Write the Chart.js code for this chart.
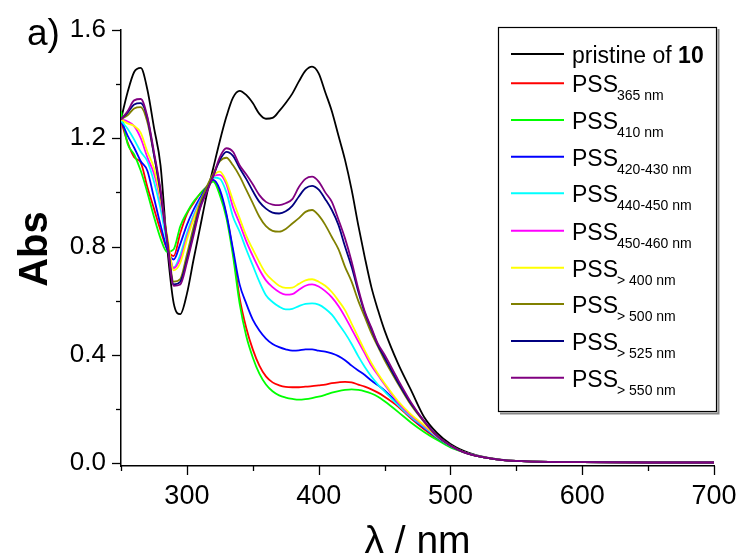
<!DOCTYPE html>
<html><head><meta charset="utf-8">
<script src="https://cdn.jsdelivr.net/npm/chart.js@4/dist/chart.umd.min.js"></script>
<style>html,body{margin:0;padding:0;background:#fff}canvas{display:block}</style>
</head><body><canvas id="c" width="742" height="559"></canvas>
<script>
const wavelengths = [250,255,260,265,270,275,280,285,290,295,300,305,310,315,320,325,330,335,340,345,350,355,360,365,370,375,380,385,390,395,400,405,410,415,420,425,430,435,440,445,450,460,470,480,490,500,510,520,530,540,550,575,600,650,700];

const pristine = [1.27,1.37,1.445,1.46,1.38,1.24,1.10,0.80,0.59,0.55,0.625,0.75,0.87,0.99,1.09,1.19,1.28,1.35,1.375,1.36,1.33,1.29,1.272,1.275,1.30,1.33,1.365,1.41,1.45,1.465,1.44,1.37,1.30,1.21,1.12,1.01,0.88,0.76,0.65,0.565,0.49,0.37,0.27,0.17,0.11,0.07,0.045,0.028,0.018,0.012,0.008,0.004,0.003,0.002,0.002];
const pss365 = [1.265,1.185,1.13,1.11,1.02,0.94,0.86,0.79,0.765,0.85,0.92,0.96,0.995,1.02,1.045,1.0,0.915,0.78,0.61,0.50,0.42,0.36,0.32,0.298,0.287,0.281,0.28,0.28,0.282,0.284,0.287,0.29,0.295,0.298,0.30,0.298,0.29,0.282,0.272,0.26,0.245,0.21,0.165,0.125,0.09,0.06,0.04,0.026,0.017,0.011,0.008,0.004,0.003,0.002,0.002];
const pss410 = [1.30,1.18,1.14,1.08,1.0,0.91,0.83,0.78,0.79,0.875,0.925,0.965,0.995,1.02,1.04,0.99,0.905,0.765,0.59,0.47,0.39,0.33,0.29,0.265,0.25,0.242,0.237,0.234,0.236,0.24,0.245,0.252,0.26,0.266,0.27,0.272,0.27,0.265,0.257,0.245,0.228,0.19,0.15,0.115,0.085,0.058,0.04,0.026,0.017,0.011,0.008,0.004,0.003,0.002,0.002];
const pss420_430 = [1.265,1.21,1.165,1.115,1.08,0.98,0.88,0.79,0.752,0.81,0.88,0.935,0.98,1.02,1.046,1.01,0.92,0.79,0.66,0.59,0.53,0.49,0.46,0.44,0.428,0.42,0.415,0.416,0.42,0.42,0.415,0.412,0.405,0.395,0.38,0.36,0.342,0.325,0.305,0.287,0.268,0.22,0.17,0.13,0.093,0.062,0.04,0.026,0.017,0.011,0.008,0.004,0.003,0.002,0.002];
const pss440_450 = [1.265,1.235,1.195,1.15,1.115,1.04,0.94,0.81,0.722,0.77,0.85,0.915,0.97,1.015,1.055,1.05,1.0,0.91,0.855,0.79,0.73,0.67,0.62,0.595,0.578,0.568,0.57,0.58,0.588,0.59,0.585,0.57,0.548,0.515,0.48,0.44,0.395,0.355,0.32,0.29,0.265,0.215,0.17,0.133,0.095,0.063,0.04,0.026,0.017,0.011,0.008,0.004,0.003,0.002,0.002];
const pss450_460 = [1.27,1.262,1.245,1.20,1.13,1.07,0.97,0.83,0.72,0.755,0.835,0.905,0.965,1.015,1.06,1.065,1.03,0.945,0.885,0.82,0.765,0.715,0.675,0.65,0.632,0.622,0.624,0.64,0.655,0.66,0.652,0.635,0.612,0.58,0.54,0.495,0.45,0.405,0.36,0.325,0.29,0.225,0.175,0.137,0.097,0.064,0.04,0.026,0.017,0.011,0.008,0.004,0.003,0.002,0.002];
const pssGt400 = [1.27,1.255,1.245,1.22,1.15,1.09,0.98,0.84,0.712,0.74,0.825,0.90,0.96,1.01,1.06,1.077,1.04,0.97,0.905,0.84,0.79,0.742,0.70,0.675,0.655,0.647,0.648,0.662,0.675,0.679,0.67,0.655,0.632,0.60,0.565,0.515,0.465,0.415,0.37,0.33,0.295,0.23,0.18,0.14,0.098,0.065,0.04,0.026,0.017,0.011,0.008,0.004,0.003,0.002,0.002];
const pssGt500 = [1.27,1.285,1.31,1.315,1.26,1.14,1.0,0.83,0.67,0.68,0.77,0.87,0.96,1.02,1.07,1.115,1.128,1.10,1.06,1.01,0.96,0.91,0.875,0.858,0.855,0.865,0.885,0.905,0.928,0.935,0.915,0.88,0.835,0.79,0.725,0.67,0.60,0.54,0.48,0.43,0.38,0.295,0.215,0.152,0.10,0.064,0.04,0.026,0.017,0.011,0.008,0.004,0.003,0.002,0.002];
const pssGt525 = [1.27,1.295,1.325,1.33,1.275,1.14,1.0,0.82,0.66,0.67,0.75,0.85,0.945,1.005,1.06,1.12,1.15,1.135,1.09,1.05,1.005,0.965,0.94,0.925,0.922,0.93,0.95,0.985,1.015,1.024,1.01,0.975,0.935,0.88,0.80,0.725,0.635,0.555,0.495,0.435,0.39,0.30,0.22,0.155,0.10,0.065,0.04,0.026,0.017,0.011,0.008,0.004,0.003,0.002,0.002];
const pssGt550 = [1.27,1.30,1.34,1.345,1.28,1.15,1.01,0.82,0.655,0.66,0.74,0.84,0.94,1.0,1.06,1.13,1.163,1.15,1.10,1.067,1.03,0.99,0.965,0.955,0.953,0.96,0.975,1.02,1.05,1.058,1.04,1.0,0.965,0.90,0.83,0.745,0.645,0.56,0.50,0.44,0.40,0.31,0.225,0.155,0.10,0.065,0.04,0.026,0.017,0.011,0.008,0.004,0.003,0.002,0.002];

const seriesValues = [pristine,pss365,pss410,pss420_430,pss440_450,pss450_460,pssGt400,pssGt500,pssGt525,pssGt550];
const seriesMain = ['pristine of ','PSS','PSS','PSS','PSS','PSS','PSS','PSS','PSS','PSS'];
const seriesSub = ['10','365 nm','410 nm','420-430 nm','440-450 nm','450-460 nm','> 400 nm','> 500 nm','> 525 nm','> 550 nm'];
const seriesColors = ['#000000','#ff0000','#00ff00','#0000ff','#00ffff','#ff00ff','#ffff00','#808000','#000080','#800080'];

const xTickLabels = [300,400,500,600,700];
const yTickLabels = [0.0,0.4,0.8,1.2,1.6];
const xMinorTicks = [250,350,450,550,650];
const yMinorTicks = [0.2,0.6,1.0,1.4];

const FONT = '"Liberation Sans", Arial, Helvetica, sans-serif';

const datasets = seriesValues.map((vals, i) => ({
  label: seriesMain[i] + seriesSub[i],
  data: wavelengths.map((w, k) => ({x: w, y: vals[k]})),
  borderColor: seriesColors[i],
  backgroundColor: seriesColors[i],
  borderWidth: 1.8,
  pointRadius: 0,
  fill: false,
  cubicInterpolationMode: 'monotone',
  order: seriesValues.length - i
}));

const decor = {
  id: 'decor',
  afterDraw(chart) {
    const ctx = chart.ctx;
    const xs = chart.scales.x, ys = chart.scales.y;
    const ca = chart.chartArea;
    ctx.save();
    ctx.strokeStyle = '#000';
    ctx.lineWidth = 1.3;
    xTickLabels.forEach(v => { const p = Math.round(xs.getPixelForValue(v)) + 0.5; ctx.beginPath(); ctx.moveTo(p, ca.bottom); ctx.lineTo(p, ca.bottom + 9); ctx.stroke(); });
    xMinorTicks.forEach(v => { const p = Math.round(xs.getPixelForValue(v)) + 0.5; ctx.beginPath(); ctx.moveTo(p, ca.bottom); ctx.lineTo(p, ca.bottom + 5); ctx.stroke(); });
    yTickLabels.forEach(v => { const p = Math.round(ys.getPixelForValue(v)) + 0.5; ctx.beginPath(); ctx.moveTo(ca.left, p); ctx.lineTo(ca.left - 9, p); ctx.stroke(); });
    yMinorTicks.forEach(v => { const p = Math.round(ys.getPixelForValue(v)) + 0.5; ctx.beginPath(); ctx.moveTo(ca.left, p); ctx.lineTo(ca.left - 5, p); ctx.stroke(); });

    ctx.fillStyle = '#000';
    ctx.font = '37px ' + FONT;
    ctx.textAlign = 'left'; ctx.textBaseline = 'alphabetic';
    ctx.fillText('a)', 27, 45);
    ctx.save();
    ctx.translate(47, 249);
    ctx.rotate(-Math.PI / 2);
    ctx.font = 'bold 40px ' + FONT;
    ctx.textAlign = 'center';
    ctx.fillText('Abs', 0, 0);
    ctx.restore();
    ctx.font = '39px ' + FONT;
    ctx.textAlign = 'center';
    ctx.fillText('\u03bb / nm', (ca.left + ca.right) / 2, 553);

    const L = 498, T = 27, R = 717, B = 412;
    ctx.fillStyle = '#fff';
    ctx.fillRect(L, T, R - L, B - T);
    ctx.strokeStyle = '#888';
    ctx.lineWidth = 2;
    ctx.beginPath(); ctx.moveTo(L + 2, B + 1.5); ctx.lineTo(R + 1.5, B + 1.5); ctx.lineTo(R + 1.5, T + 2); ctx.stroke();
    ctx.strokeStyle = '#000';
    ctx.lineWidth = 1.2;
    ctx.strokeRect(L + 0.5, T + 0.5, R - L - 1, B - T - 1);
    const rows = [54, 83.3, 120, 156.7, 193.3, 230.7, 267.7, 304, 341, 377.7];
    rows.forEach((ry, i) => {
      ctx.strokeStyle = seriesColors[i];
      ctx.lineWidth = 2;
      ctx.beginPath(); ctx.moveTo(511, ry); ctx.lineTo(564, ry); ctx.stroke();
      ctx.fillStyle = '#000';
      ctx.textAlign = 'left';
      ctx.textBaseline = 'alphabetic';
      if (i === 0) {
        ctx.font = '23px ' + FONT;
        ctx.fillText(seriesMain[i], 572, ry + 8.5);
        const w = ctx.measureText(seriesMain[i]).width;
        ctx.font = 'bold 23px ' + FONT;
        ctx.fillText(seriesSub[i], 572 + w, ry + 8.5);
      } else {
        ctx.font = '23px ' + FONT;
        ctx.fillText(seriesMain[i], 572, ry + 9);
        const w = ctx.measureText(seriesMain[i]).width;
        ctx.font = '14px ' + FONT;
        ctx.fillText(seriesSub[i], 572 + w - 1, ry + 17);
      }
    });
    ctx.restore();
  }
};

new Chart(document.getElementById('c'), {
  type: 'line',
  data: { datasets },
  plugins: [decor],
  options: {
    responsive: false,
    animation: false,
    devicePixelRatio: 1,
    layout: { padding: { left: 0, right: 28, top: 30, bottom: 0 } },
    plugins: { legend: { display: false }, tooltip: { enabled: false } },
    scales: {
      x: {
        type: 'linear', min: 250, max: 700,
        grid: { display: false, drawTicks: false },
        border: { display: true, color: '#000', width: 1.5 },
        ticks: { color: '#000', font: { family: FONT, size: 27 }, padding: 14, autoSkip: false, maxRotation: 0, callback: v => String(v) },
        afterBuildTicks: s => { s.ticks = xTickLabels.map(v => ({ value: v })); },
        afterFit: s => { s.height = 93; s.paddingRight = 0; s.paddingLeft = 0; }
      },
      y: {
        type: 'linear', min: -0.011, max: 1.6,
        grid: { display: false, drawTicks: false },
        border: { display: true, color: '#000', width: 1.5 },
        ticks: { color: '#000', font: { family: FONT, size: 26 }, padding: 15, autoSkip: false, callback: v => Number(v).toFixed(1) },
        afterBuildTicks: s => { s.ticks = yTickLabels.map(v => ({ value: v })); },
        afterFit: s => { s.width = 121; s.paddingTop = 0; s.paddingBottom = 0; }
      }
    }
  }
});
</script>
</body></html>
